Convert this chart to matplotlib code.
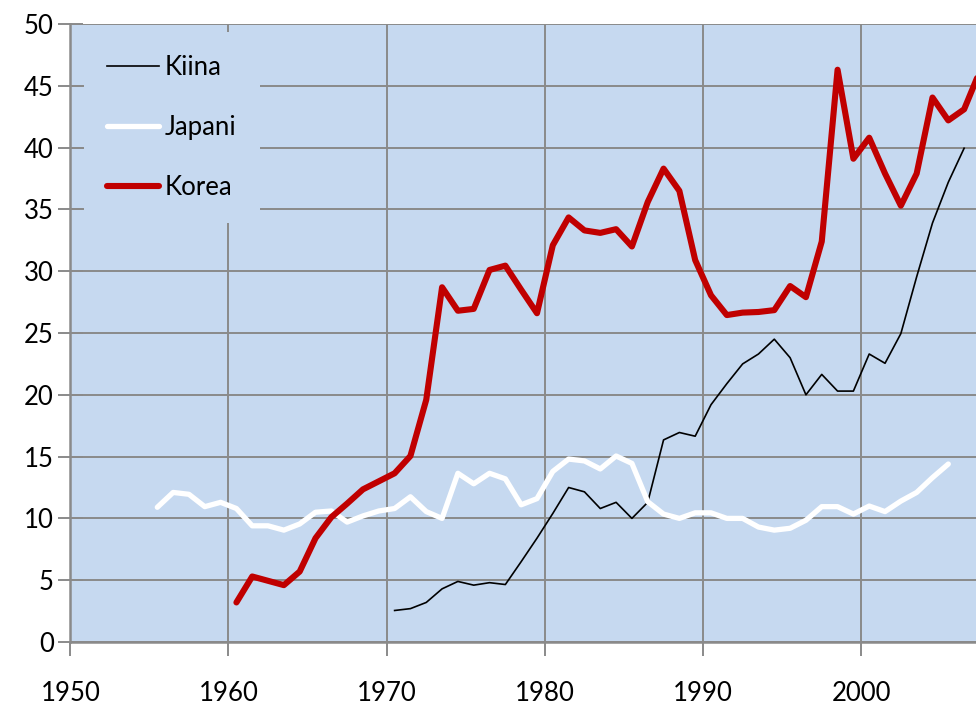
import numpy as np
import matplotlib
matplotlib.use("Agg")
from matplotlib import pyplot as plt

plt.rcParams["font.family"] = ["Lato", "DejaVu Sans"]

# series, one value per year
kiina_start = 1970
kiina = [2.55, 2.7, 3.2, 4.3, 4.9, 4.6, 4.8, 4.65, 6.5, 8.4, 10.4, 12.5, 12.15,
         10.8, 11.3, 10.0, 11.3, 16.35, 16.95, 16.65, 19.2, 20.9, 22.5, 23.3,
         24.5, 23.0, 20.0, 21.65, 20.3, 20.3, 23.3, 22.55, 24.95, 29.55, 33.9,
         37.2, 39.95]

japani_start = 1955
japani = [10.9, 12.1, 11.95, 10.95, 11.3, 10.8, 9.4, 9.4, 9.05, 9.55, 10.5,
          10.6, 9.7, 10.2, 10.6, 10.8, 11.75, 10.55, 10.0, 13.65, 12.8, 13.65,
          13.2, 11.1, 11.6, 13.8, 14.8, 14.65, 14.0, 15.05, 14.45, 11.35, 10.35,
          10.0, 10.45, 10.45, 10.0, 10.0, 9.3, 9.05, 9.2, 9.85, 10.95, 10.95,
          10.35, 11.0, 10.55, 11.4, 12.1, 13.3, 14.4]

korea_start = 1960
korea = [3.2, 5.3, 4.95, 4.6, 5.7, 8.4, 10.1, 11.2, 12.35, 13.0, 13.65, 15.05,
         19.6, 28.7, 26.8, 26.95, 30.1, 30.45, 28.5, 26.6, 32.1, 34.35, 33.3,
         33.1, 33.4, 32.0, 35.6, 38.3, 36.5, 30.9, 28.05, 26.45, 26.65, 26.7,
         26.85, 28.8, 27.9, 32.4, 46.3, 39.1, 40.8, 37.9, 35.3, 37.9, 44.05,
         42.2, 43.1, 46.2]

labels = ["Kiina", "Japani", "Korea"]
x_ticks = [1950, 1960, 1970, 1980, 1990, 2000]


def years(start, vals):
    # points sit in the middle of each year's category
    return np.arange(start, start + len(vals)) + 0.5


W, H = 976, 704
fig = plt.figure(figsize=(W / 100, H / 100), dpi=100)
left, right, top, bottom = 70.3, 976, 24, 642
ax = fig.add_axes([left / W, 1 - bottom / H, (right - left) / W, (bottom - top) / H])

bg = "#C6D9F0"
grid_c = "#8A8A8A"
ax.set_facecolor(bg)

ax.plot(years(kiina_start, kiina), kiina, color="black", lw=1.2,
        label=labels[0], solid_joinstyle="round", zorder=3)
ax.plot(years(japani_start, japani), japani, color="white", lw=3.8,
        label=labels[1], solid_joinstyle="round", solid_capstyle="round", zorder=4)
ax.plot(years(korea_start, korea), korea, color="#C00000", lw=4.4,
        label=labels[2], solid_joinstyle="round", solid_capstyle="round", zorder=5)

ax.set_xlim(1950, 1950 + (right - left) / 15.82)
ax.set_ylim(0, 50)
ax.set_xticks(x_ticks)
ax.set_yticks(np.arange(0, 55, 5))
ax.grid(True, color=grid_c, lw=1.4, zorder=1)
ax.set_axisbelow(True)

for s in ["top", "right"]:
    ax.spines[s].set_visible(False)
for s in ["left", "bottom"]:
    ax.spines[s].set_color(grid_c)
    ax.spines[s].set_linewidth(1.8)

ax.tick_params(axis="y", direction="inout", length=18, width=1.4, color=grid_c,
               labelsize=18.5, pad=3)
ax.tick_params(axis="x", direction="out", length=10, width=1.4, color=grid_c,
               labelsize=18.5, pad=18)

# legend box sits inside the plot, covering the grid
lx, ly = 84, 32
leg = ax.legend(loc="upper left",
                bbox_to_anchor=((lx - left) / (right - left), (bottom - ly) / (bottom - top)),
                frameon=True, fontsize=18.5, handlelength=2.0, handletextpad=0.25,
                labelspacing=1.36, borderpad=0.9, borderaxespad=0, fancybox=False)
leg.get_frame().set_facecolor(bg)
leg.get_frame().set_edgecolor("none")
leg.get_frame().set_alpha(1)

fig.savefig("out.png", dpi=100)
